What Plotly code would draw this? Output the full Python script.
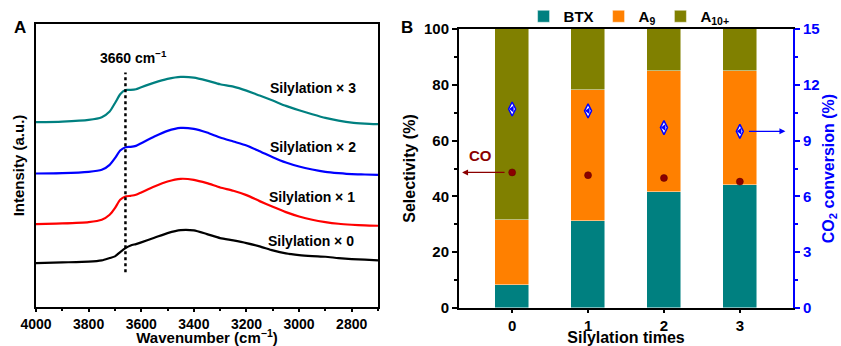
import plotly.graph_objects as go

# ---------------- Panel A data (FTIR, a.u.) ----------------
wavenumber = [4000, 3900, 3800, 3750, 3720, 3700, 3680, 3660, 3640, 3620, 3600, 3550, 3500,
              3450, 3400, 3350, 3300, 3250, 3200, 3150, 3100, 3050, 3000, 2950, 2900, 2850,
              2800, 2750, 2700]
sil3 = [55.5, 55.7, 56.2, 57.0, 58.7, 61.2, 63.9, 65.2, 65.2, 65.4, 66.0, 67.4, 68.5, 69.1,
        68.9, 68.0, 66.9, 66.2, 65.0, 63.5, 62.0, 60.4, 59.1, 57.9, 56.8, 56.0, 55.4, 55.1, 54.9]
sil2 = [40.1, 40.2, 40.6, 41.2, 42.7, 44.7, 47.0, 48.0, 48.1, 48.4, 49.2, 51.2, 52.9, 53.8,
        53.5, 52.4, 50.9, 49.7, 48.5, 46.8, 45.0, 43.4, 42.2, 41.3, 40.6, 40.2, 39.9, 39.8, 39.7]
sil1 = [24.9, 25.1, 25.5, 26.2, 27.7, 29.7, 32.2, 33.2, 33.4, 33.7, 34.4, 36.2, 37.7, 38.5,
        38.2, 37.2, 35.9, 34.9, 33.6, 31.8, 30.1, 28.5, 27.2, 26.2, 25.5, 25.0, 24.7, 24.5, 24.4]
sil0 = [13.2, 13.4, 13.6, 14.0, 14.7, 15.2, 16.5, 17.7, 18.5, 18.9, 19.4, 20.8, 22.2, 23.1,
        23.0, 21.9, 20.7, 20.0, 19.2, 18.2, 17.0, 16.1, 15.6, 15.3, 15.1, 14.7, 14.4, 14.2, 14.0]
curve_labels = ["Silylation \u00d7 3", "Silylation \u00d7 2", "Silylation \u00d7 1", "Silylation \u00d7 0"]
label_x = [2947, 2947, 2952, 2955]
label_y = [65.7, 48.0, 33.0, 19.8]
marker_wn = 3660
marker_span = [10.4, 70.4]

# ---------------- Panel B data ----------------
silylation_times = [0, 1, 2, 3]
btx = [8.4, 31.3, 41.7, 44.1]
a9 = [23.3, 47.0, 43.4, 41.0]
a10 = [68.3, 21.7, 14.9, 14.9]
co_sel = [48.6, 47.6, 46.6, 45.3]
co2_conv = [10.7, 10.6, 9.7, 9.5]

FONT = "Liberation Sans, Arial, sans-serif"
fig = go.Figure()

# Panel A curves
for ys, col, name in [(sil0, "black", "x0"), (sil1, "#FF0000", "x1"),
                      (sil2, "#0000FF", "x2"), (sil3, "#008080", "x3")]:
    fig.add_trace(go.Scatter(x=wavenumber, y=ys, mode="lines", line=dict(color=col, width=2.2, shape="spline", smoothing=0.6),
                             xaxis="x", yaxis="y", showlegend=False, name=name))
fig.add_trace(go.Scatter(x=[marker_wn, marker_wn], y=marker_span, mode="lines",
                         line=dict(color="black", width=2.5, dash="dot"), xaxis="x", yaxis="y", showlegend=False))
for t, lx, ly in zip(curve_labels, label_x, label_y):
    fig.add_annotation(x=lx, y=ly, xref="x", yref="y", text=t, showarrow=False,
                       font=dict(size=14, color="black", family=FONT, weight="bold"))
fig.add_annotation(x=marker_wn, y=75.0, xref="x", yref="y", text="3660 cm<sup>\u22121</sup>", showarrow=False,
                   xanchor="left", xshift=-27,
                   font=dict(size=14, color="black", family=FONT, weight="bold"))

# Panel B bars
bar_line = dict(color="rgba(255,255,255,0.6)", width=0.8)
fig.add_trace(go.Bar(x=silylation_times, y=btx, name="BTX", marker=dict(color="#008080", line=bar_line),
                     width=0.45, xaxis="x2", yaxis="y2"))
fig.add_trace(go.Bar(x=silylation_times, y=a9, name="A<sub>9</sub>", marker=dict(color="#FF8000", line=bar_line),
                     width=0.45, xaxis="x2", yaxis="y2"))
fig.add_trace(go.Bar(x=silylation_times, y=a10, name="A<sub>10+</sub>", marker=dict(color="#808000", line=bar_line),
                     width=0.45, xaxis="x2", yaxis="y2"))
fig.add_trace(go.Scatter(x=silylation_times, y=co_sel, mode="markers",
                         marker=dict(symbol="circle", size=7, color="#8B0000",
                                     line=dict(color="#5a0000", width=0.5)),
                         xaxis="x2", yaxis="y2", showlegend=False))
fig.add_trace(go.Scatter(x=silylation_times, y=co2_conv, mode="markers",
                         marker=dict(symbol="diamond-tall", size=10, color="white",
                                     line=dict(color="#0000FF", width=1.5)),
                         xaxis="x2", yaxis="y3", showlegend=False))
fig.add_trace(go.Scatter(x=silylation_times, y=co2_conv, mode="markers",
                         marker=dict(symbol="triangle-left", size=6, color="#0000FF", line=dict(width=0)),
                         xaxis="x2", yaxis="y3", showlegend=False))

# Arrows
fig.add_annotation(x=-0.66, y=co_sel[0], ax=-0.08, ay=co_sel[0], xref="x2", yref="y2", axref="x2", ayref="y2",
                   text="", showarrow=True, arrowhead=2, arrowsize=1, arrowwidth=1.2, arrowcolor="#8B0000")
fig.add_annotation(x=-0.42, y=54.5, xref="x2", yref="y2", text="CO", showarrow=False,
                   font=dict(size=15, color="#8B0000", family=FONT, weight="bold"))
fig.add_annotation(x=3.6, y=co2_conv[3], ax=3.1, ay=co2_conv[3], xref="x2", yref="y3", axref="x2", ayref="y3",
                   text="", showarrow=True, arrowhead=2, arrowsize=1, arrowwidth=1.2, arrowcolor="#0000FF")

# Panel labels
fig.add_annotation(x=20 / 841, y=1 - 27 / 346, xref="paper", yref="paper", text="A", showarrow=False,
                   xanchor="center", yanchor="middle",
                   font=dict(size=17, color="black", family=FONT, weight="bold"))
fig.add_annotation(x=407 / 841, y=1 - 27 / 346, xref="paper", yref="paper", text="B", showarrow=False,
                   xanchor="center", yanchor="middle",
                   font=dict(size=17, color="black", family=FONT, weight="bold"))

tickA = dict(size=14, color="black", family=FONT, weight="bold")
tickB = dict(size=15, color="black", family=FONT, weight="bold")
titleF = dict(size=15, color="black", family=FONT, weight="bold")

fig.update_layout(
    width=841, height=346, margin=dict(l=0, r=0, t=0, b=0, autoexpand=False),
    paper_bgcolor="white", plot_bgcolor="white",
    font=dict(family=FONT, weight="bold"),
    barmode="stack", bargap=0,
    legend=dict(orientation="h", x=0.748, xanchor="center", y=1.0, yanchor="top",
                font=dict(size=15, color="black", family=FONT, weight="bold"),
                bgcolor="rgba(0,0,0,0)", itemwidth=30, tracegroupgap=0, traceorder="normal"),
    xaxis=dict(domain=[36 / 841, 378 / 841], range=[4000, 2700], anchor="y", automargin=False,
               showline=True, linecolor="black", linewidth=2, mirror=True, showgrid=False, zeroline=False,
               ticks="outside", ticklen=3, tickwidth=1.5, tickcolor="black", dtick=200, tick0=2800,
               minor=dict(ticks="outside", ticklen=2, dtick=100, tickcolor="black"),
               tickfont=tickA, title=dict(text="Wavenumber (cm<sup>\u22121</sup>)", font=titleF, standoff=0)),
    yaxis=dict(domain=[1 - 307 / 346, 1 - 24 / 346], range=[0, 85], anchor="x", automargin=False,
               showline=True, linecolor="black", linewidth=2, mirror=True, showgrid=False, zeroline=False,
               showticklabels=False, ticks="",
               title=dict(text="Intensity (a.u.)", font=titleF, standoff=6)),
    xaxis2=dict(domain=[459 / 841, 793 / 841], range=[-0.7, 3.7], anchor="y2", automargin=False,
                showline=True, linecolor="black", linewidth=2, mirror=True, showgrid=False, zeroline=False,
                ticks="outside", ticklen=3, tickwidth=1.5, tickcolor="black", tickvals=silylation_times,
                tickfont=tickB, title=dict(text="Silylation times", font=dict(size=16, color="black", family=FONT, weight="bold"), standoff=0)),
    yaxis2=dict(domain=[1 - 308 / 346, 1 - 29 / 346], range=[0, 100], anchor="x2", automargin=False,
                showline=True, linecolor="black", linewidth=2, showgrid=False, zeroline=False,
                ticks="outside", ticklen=5, tickwidth=1.5, tickcolor="black", dtick=20,
                minor=dict(ticks="outside", ticklen=3, dtick=10, tickcolor="black"),
                tickfont=tickB, title=dict(text="Selectivity (%)", font=dict(size=16, color="black", family=FONT, weight="bold"), standoff=4)),
    yaxis3=dict(domain=[1 - 308 / 346, 1 - 29 / 346], range=[0, 15], anchor="x2", overlaying="y2", side="right",
                automargin=False,
                showline=True, linecolor="#0000FF", linewidth=2, showgrid=False, zeroline=False,
                ticks="outside", ticklen=5, tickwidth=1.5, tickcolor="#0000FF", dtick=3,
                minor=dict(ticks="outside", ticklen=3, dtick=1.5, tickcolor="#0000FF"),
                tickfont=dict(size=15, color="#0000FF", family=FONT, weight="bold"),
                title=dict(text="CO<sub>2</sub> conversion (%)", font=dict(size=16, color="#0000FF", family=FONT, weight="bold"), standoff=4)),
)

fig.write_html("out.html", config={"displayModeBar": False},
               post_script="document.body.style.margin='0';")
